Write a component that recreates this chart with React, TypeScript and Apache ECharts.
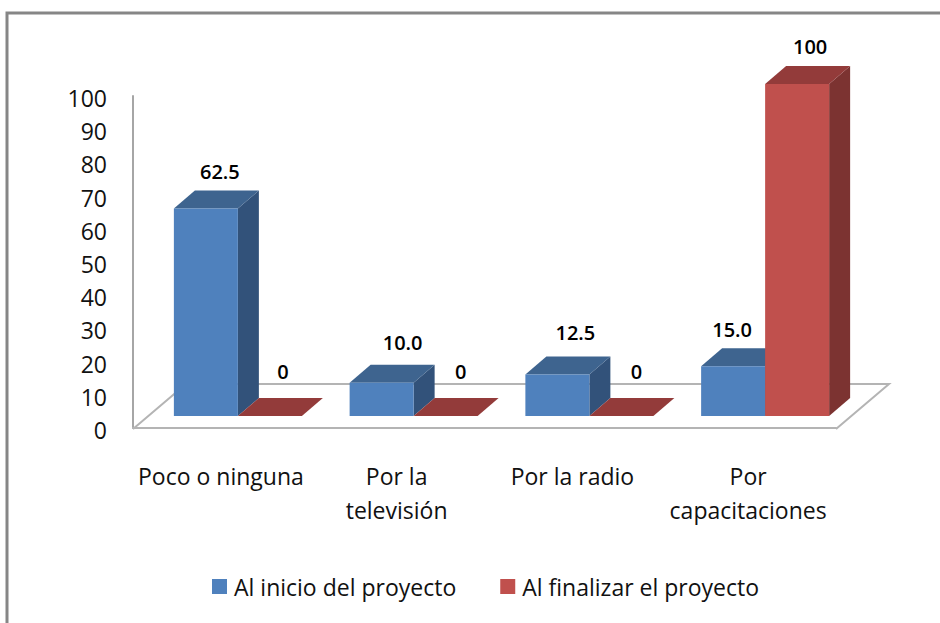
import React, { useEffect, useRef } from "react";
import * as echarts from "echarts";

const categories = ["Poco o ninguna", "Por la\ntelevisión", "Por la radio", "Por\ncapacitaciones"];
const inicio = [62.5, 10.0, 12.5, 15.0];
const finalizar = [0, 0, 0, 100];
const yTicksMax = 100;
const legendNames = ["Al inicio del proyecto", "Al finalizar el proyecto"];

const FONT = "'Open Sans', sans-serif";
const BAR_W = 64;
const DEPTH_X = 21;
const DEPTH_Y = 18;
const SHIFT_X = 17;
const SHIFT_Y = 12;

const barRenderer = (
  colors: { front: string; top: string; side: string },
  side: "left" | "right",
  fmt: (v: number) => string,
  labelDx: number[],
  labelDy: number[],
) => (params: any, api: any) => {
  const idx = api.value(0);
  const val = api.value(1);
  const top = api.coord([idx, val]);
  const base = api.coord([idx, 0]);
  const x0 = base[0] + SHIFT_X - (side === "left" ? BAR_W : 0);
  const x1 = x0 + BAR_W;
  const yb = base[1] - SHIFT_Y;
  const yt = top[1] - SHIFT_Y;
  return {
    type: "group",
    children: [
      {
        type: "polygon",
        shape: { points: [[x1, yb], [x1 + DEPTH_X, yb - DEPTH_Y], [x1 + DEPTH_X, yt - DEPTH_Y], [x1, yt]] },
        style: { fill: colors.side },
      },
      {
        type: "polygon",
        shape: { points: [[x0, yt], [x0 + DEPTH_X, yt - DEPTH_Y], [x1 + DEPTH_X, yt - DEPTH_Y], [x1, yt]] },
        style: { fill: colors.top },
      },
      {
        type: "rect",
        shape: { x: x0, y: yt, width: BAR_W, height: yb - yt },
        style: { fill: colors.front },
      },
      {
        type: "text",
        x: (x0 + x1) / 2 + labelDx[idx],
        y: yt - DEPTH_Y - 20 + labelDy[idx],
        style: {
          text: fmt(val),
          fill: "#000",
          font: `600 20px ${FONT}`,
          textAlign: "center",
          textVerticalAlign: "middle",
        },
      },
    ],
  };
};

const floorRenderer = (params: any, api: any) => {
  const o = api.coord([0, 0]);
  const cs = params.coordSys;
  const x0 = cs.x;
  const x1 = cs.x + cs.width;
  const y = o[1] + 1;
  const dx = 53;
  const dy = 45;
  return {
    type: "polyline",
    shape: { points: [[x0, y], [x0 + dx, y - dy], [x1 + dx, y - dy], [x1, y]] },
    style: { stroke: "#b4b4b4", lineWidth: 2, fill: "none" },
  };
};

export default function App() {
  const ref = useRef<HTMLDivElement>(null);
  useEffect(() => {
    const chart = echarts.init(ref.current!, null, { renderer: "svg" });
    chart.setOption({
      animation: false,
      backgroundColor: "#fff",
      grid: { left: 133, right: 104, top: 96, bottom: 195, containLabel: false },
      legend: {
        data: [
          { name: legendNames[0], itemStyle: { color: "#4f81bd" } },
          { name: legendNames[1], itemStyle: { color: "#c0504d" } },
        ],
        left: 212,
        top: 575,
        padding: 0,
        itemWidth: 15,
        itemHeight: 15,
        itemGap: 44,
        icon: "rect",
        textStyle: { fontFamily: FONT, fontSize: 23, color: "#111", padding: [0, 0, 0, 2] },
      },
      xAxis: {
        type: "category",
        data: categories,
        offset: 1,
        axisLine: { show: true, lineStyle: { color: "#b4b4b4", width: 2 } },
        axisTick: { show: false },
        axisLabel: { interval: 0, margin: 30, fontFamily: FONT, fontSize: 23, color: "#111", lineHeight: 34 },
      },
      yAxis: {
        type: "value",
        min: 0,
        max: yTicksMax,
        interval: 10,
        axisLine: { show: true, lineStyle: { color: "#a6a6a6", width: 2 } },
        axisTick: { show: false },
        splitLine: { show: false },
        axisLabel: {
          margin: 26,
          formatter: "{t|{value}}",
          rich: { t: { fontFamily: FONT, fontSize: 23, color: "#111", padding: [4, 0, 0, 0] } },
        },
      },
      graphic: [
        {
          type: "polyline",
          silent: true,
          shape: { points: [[7, 623], [7, 13], [940, 13]] },
          style: { stroke: "#868686", lineWidth: 3, fill: "none" },
        },
      ],
      series: [
        {
          type: "custom",
          silent: true,
          clip: false,
          z: 1,
          data: [[0, 0]],
          encode: { x: 0, y: 1 },
          renderItem: floorRenderer,
        },
        {
          type: "custom",
          name: legendNames[0],
          clip: false,
          z: 2,
          itemStyle: { color: "#4f81bd" },
          data: inicio.map((v, i) => [i, v]),
          encode: { x: 0, y: 1 },
          renderItem: barRenderer(
            { front: "#4f81bd", top: "#3e648f", side: "#32527a" },
            "left",
            (v) => v.toFixed(1),
            [14, 21, 18, -1],
            [1, -2, -4, 1],
          ),
        },
        {
          type: "custom",
          name: legendNames[1],
          clip: false,
          z: 3,
          itemStyle: { color: "#c0504d" },
          data: finalizar.map((v, i) => [i, v]),
          encode: { x: 0, y: 1 },
          renderItem: barRenderer(
            { front: "#c0504d", top: "#933b3a", side: "#7c3331" },
            "right",
            (v) => String(v),
            [13, 15, 15, 13],
            [-7, -7, -7, 0],
          ),
        },
      ],
    });
    return () => chart.dispose();
  }, []);
  return (
    <div
      ref={ref}
      style={{ position: "absolute", left: 0, top: 0, width: 940, height: 623, background: "#fff" }}
    />
  );
}
